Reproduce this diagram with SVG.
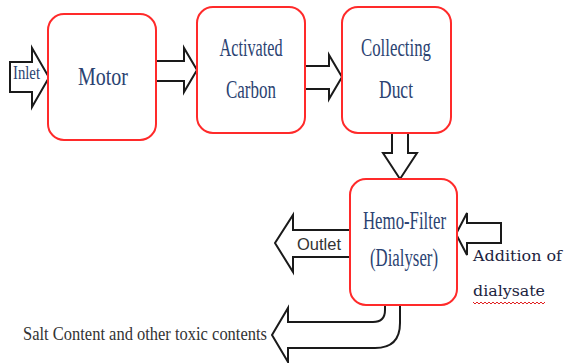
<svg xmlns="http://www.w3.org/2000/svg" width="564" height="363" viewBox="0 0 564 363">
<style>
.box{fill:#fff;stroke:#ff2a2a;stroke-width:2}
.arr{fill:#fff;stroke:#1a1a1a;stroke-width:2;stroke-linejoin:miter}
.lbl{font-family:"Liberation Serif","Times New Roman",serif;fill:#2b4372;text-anchor:middle}
.big{font-size:25px}
</style>
<rect width="564" height="363" fill="#fff"/>
<g id="connectors">
<polygon class="arr" points="10,62 32,62 32,48 49,77.5 32,107 32,92 10,92"/>
<polygon class="arr" points="150,61 184,61 184,48 197,70 184,92 184,81 150,81"/>
<polygon class="arr" points="300,66 329,66 329,55 342,77 329,99 329,89 300,89"/>
<polygon class="arr" points="392,128 392,153 383,153 400,179 417,153 408,153 408,128"/>
<polygon class="arr" points="356,230 293,230 293,215 275,243 293,272 293,257 356,257"/>
<polygon class="arr" points="501,223 467,223 467,213 456,234 467,255 467,243 501,243"/>
<path class="arr" d="M385,298 L385,310 Q385,322 373,322 L288,322 L288,308 L272,335 L288,362 L288,348 L375,348 Q400,348 400,323 L400,298"/>
</g>
<g id="motor">
<rect class="box" x="48" y="14" width="108" height="126" rx="16"/>
<text class="lbl big" x="103" y="85" textLength="50" lengthAdjust="spacingAndGlyphs">Motor</text>
</g>
<g id="activated-carbon">
<rect class="box" x="197" y="7" width="108" height="126" rx="16"/>
<text class="lbl big" x="251" y="56" textLength="63" lengthAdjust="spacingAndGlyphs">Activated</text>
<text class="lbl big" x="251" y="98" textLength="50" lengthAdjust="spacingAndGlyphs">Carbon</text>
</g>
<g id="collecting-duct">
<rect class="box" x="342" y="7" width="109" height="126" rx="16"/>
<text class="lbl big" x="396" y="56" textLength="70" lengthAdjust="spacingAndGlyphs">Collecting</text>
<text class="lbl big" x="396" y="98" textLength="34" lengthAdjust="spacingAndGlyphs">Duct</text>
</g>
<g id="hemo-filter">
<rect class="box" x="350" y="179" width="107" height="126" rx="16"/>
<text class="lbl big" x="404.5" y="229" textLength="83" lengthAdjust="spacingAndGlyphs">Hemo-Filter</text>
<text class="lbl big" x="404" y="266" textLength="68" lengthAdjust="spacingAndGlyphs">(Dialyser)</text>
</g>
<g id="inlet">
<text class="lbl" x="26.5" y="79" font-size="18" textLength="27" lengthAdjust="spacingAndGlyphs">Inlet</text>
</g>
<g id="outlet">
<text x="297" y="250" font-family="'Liberation Sans',Arial,sans-serif" font-size="17" fill="#333" textLength="44" lengthAdjust="spacingAndGlyphs">Outlet</text>
</g>
<g id="addition">
<text x="473" y="261" font-family="'DejaVu Serif','Liberation Serif',serif" font-size="15" fill="#1c2340" textLength="89" lengthAdjust="spacingAndGlyphs">Addition of</text>
<text x="473" y="296" font-family="'DejaVu Serif','Liberation Serif',serif" font-size="15" fill="#1c2340" textLength="72" lengthAdjust="spacingAndGlyphs">dialysate</text>
<polyline fill="none" stroke="#e02020" stroke-width="1" points="473,302 475,304 477,302 479,304 481,302 483,304 485,302 487,304 489,302 491,304 493,302 495,304 497,302 499,304 501,302 503,304 505,302 507,304 509,302 511,304 513,302 515,304 517,302 519,304 521,302 523,304 525,302 527,304 529,302 531,304 533,302 535,304 537,302 539,304 541,302 543,304 545,302"/>
</g>
<g id="salt">
<text x="23" y="340" font-family="'Liberation Serif','Times New Roman',serif" font-size="19" fill="#333" textLength="244" lengthAdjust="spacingAndGlyphs">Salt Content and other toxic contents</text>
</g>
</svg>
